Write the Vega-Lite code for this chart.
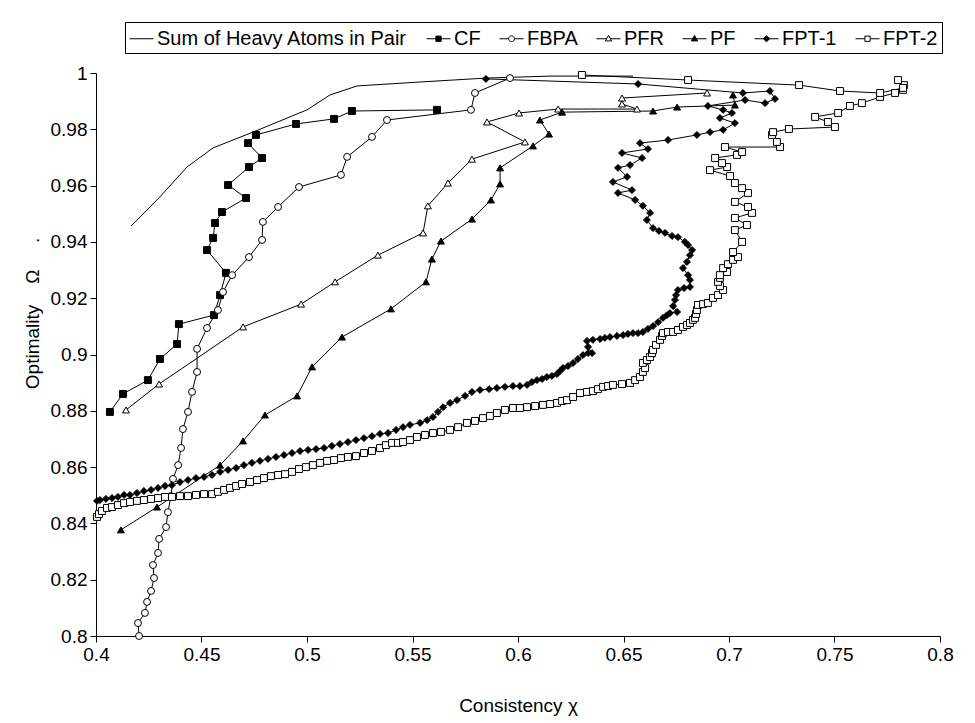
{
  "$schema": "https://vega.github.io/schema/vega-lite/v6.json",
  "width": 844,
  "height": 563,
  "autosize": {"type": "none"},
  "padding": {"left": 96, "top": 73, "right": 35, "bottom": 87},
  "background": "white",
  "config": {
    "view": {"stroke": null},
    "font": "Liberation Sans, Arial, sans-serif",
    "axis": {"grid": false, "domainColor": "black", "tickColor": "black", "labelColor": "black", "titleColor": "black", "labelFontSize": 19, "titleFontSize": 19, "titleFontWeight": "normal", "tickSize": 6, "domainWidth": 1, "tickWidth": 1, "labelFlush": false, "labelOverlap": false, "labelFont": "Liberation Sans, Arial, sans-serif", "titleFont": "Liberation Sans, Arial, sans-serif"},
    "legend": {"labelFont": "Liberation Sans, Arial, sans-serif", "labelFontSize": 20, "labelColor": "black"}
  },
  "data": {"values": [
    {"s":"Sum of Heavy Atoms in Pair","i":1,"x":0.4166,"y":0.9456},
    {"s":"Sum of Heavy Atoms in Pair","i":2,"x":0.4303,"y":0.9560},
    {"s":"Sum of Heavy Atoms in Pair","i":3,"x":0.4431,"y":0.9666},
    {"s":"Sum of Heavy Atoms in Pair","i":4,"x":0.4555,"y":0.9734},
    {"s":"Sum of Heavy Atoms in Pair","i":5,"x":0.4744,"y":0.9790},
    {"s":"Sum of Heavy Atoms in Pair","i":6,"x":0.5000,"y":0.9869},
    {"s":"Sum of Heavy Atoms in Pair","i":7,"x":0.5109,"y":0.9922},
    {"s":"Sum of Heavy Atoms in Pair","i":8,"x":0.5237,"y":0.9954},
    {"s":"Sum of Heavy Atoms in Pair","i":9,"x":0.5536,"y":0.9968},
    {"s":"Sum of Heavy Atoms in Pair","i":10,"x":0.5848,"y":0.9982},
    {"s":"Sum of Heavy Atoms in Pair","i":11,"x":0.6152,"y":0.9989},
    {"s":"Sum of Heavy Atoms in Pair","i":12,"x":0.6545,"y":0.9989},

    {"s":"CF","i":1,"x":0.4066,"y":0.8796},
    {"s":"CF","i":2,"x":0.4128,"y":0.8860},
    {"s":"CF","i":3,"x":0.4246,"y":0.8909},
    {"s":"CF","i":4,"x":0.4303,"y":0.8984},
    {"s":"CF","i":5,"x":0.4384,"y":0.9037},
    {"s":"CF","i":6,"x":0.4393,"y":0.9108},
    {"s":"CF","i":7,"x":0.4559,"y":0.9140},
    {"s":"CF","i":8,"x":0.4588,"y":0.9211},
    {"s":"CF","i":9,"x":0.4616,"y":0.9290},
    {"s":"CF","i":10,"x":0.4526,"y":0.9371},
    {"s":"CF","i":11,"x":0.4555,"y":0.9414},
    {"s":"CF","i":12,"x":0.4564,"y":0.9467},
    {"s":"CF","i":13,"x":0.4597,"y":0.9506},
    {"s":"CF","i":14,"x":0.4711,"y":0.9556},
    {"s":"CF","i":15,"x":0.4626,"y":0.9602},
    {"s":"CF","i":16,"x":0.4725,"y":0.9666},
    {"s":"CF","i":17,"x":0.4787,"y":0.9698},
    {"s":"CF","i":18,"x":0.4720,"y":0.9751},
    {"s":"CF","i":19,"x":0.4758,"y":0.9780},
    {"s":"CF","i":20,"x":0.4948,"y":0.9819},
    {"s":"CF","i":21,"x":0.5128,"y":0.9837},
    {"s":"CF","i":22,"x":0.5213,"y":0.9865},
    {"s":"CF","i":23,"x":0.5616,"y":0.9869},

    {"s":"FBPA","i":1,"x":0.4204,"y":0.8000},
    {"s":"FBPA","i":2,"x":0.4199,"y":0.8046},
    {"s":"FBPA","i":3,"x":0.4232,"y":0.8082},
    {"s":"FBPA","i":4,"x":0.4242,"y":0.8121},
    {"s":"FBPA","i":5,"x":0.4261,"y":0.8160},
    {"s":"FBPA","i":6,"x":0.4275,"y":0.8206},
    {"s":"FBPA","i":7,"x":0.4270,"y":0.8252},
    {"s":"FBPA","i":8,"x":0.4294,"y":0.8295},
    {"s":"FBPA","i":9,"x":0.4299,"y":0.8345},
    {"s":"FBPA","i":10,"x":0.4332,"y":0.8387},
    {"s":"FBPA","i":11,"x":0.4341,"y":0.8440},
    {"s":"FBPA","i":12,"x":0.4355,"y":0.8497},
    {"s":"FBPA","i":13,"x":0.4365,"y":0.8558},
    {"s":"FBPA","i":14,"x":0.4389,"y":0.8607},
    {"s":"FBPA","i":15,"x":0.4403,"y":0.8668},
    {"s":"FBPA","i":16,"x":0.4412,"y":0.8735},
    {"s":"FBPA","i":17,"x":0.4436,"y":0.8796},
    {"s":"FBPA","i":18,"x":0.4455,"y":0.8867},
    {"s":"FBPA","i":19,"x":0.4479,"y":0.8938},
    {"s":"FBPA","i":20,"x":0.4479,"y":0.9020},
    {"s":"FBPA","i":21,"x":0.4526,"y":0.9094},
    {"s":"FBPA","i":22,"x":0.4578,"y":0.9158},
    {"s":"FBPA","i":23,"x":0.4602,"y":0.9222},
    {"s":"FBPA","i":24,"x":0.4645,"y":0.9282},
    {"s":"FBPA","i":25,"x":0.4725,"y":0.9346},
    {"s":"FBPA","i":26,"x":0.4787,"y":0.9407},
    {"s":"FBPA","i":27,"x":0.4791,"y":0.9471},
    {"s":"FBPA","i":28,"x":0.4863,"y":0.9524},
    {"s":"FBPA","i":29,"x":0.4962,"y":0.9595},
    {"s":"FBPA","i":30,"x":0.5161,"y":0.9638},
    {"s":"FBPA","i":31,"x":0.5190,"y":0.9702},
    {"s":"FBPA","i":32,"x":0.5308,"y":0.9773},
    {"s":"FBPA","i":33,"x":0.5379,"y":0.9833},
    {"s":"FBPA","i":34,"x":0.5777,"y":0.9869},
    {"s":"FBPA","i":35,"x":0.5796,"y":0.9929},
    {"s":"FBPA","i":36,"x":0.5962,"y":0.9982},

    {"s":"PFR","i":1,"x":0.4142,"y":0.8803},
    {"s":"PFR","i":2,"x":0.4299,"y":0.8895},
    {"s":"PFR","i":3,"x":0.4697,"y":0.9098},
    {"s":"PFR","i":4,"x":0.4972,"y":0.9179},
    {"s":"PFR","i":5,"x":0.5133,"y":0.9258},
    {"s":"PFR","i":6,"x":0.5336,"y":0.9353},
    {"s":"PFR","i":7,"x":0.5550,"y":0.9432},
    {"s":"PFR","i":8,"x":0.5573,"y":0.9528},
    {"s":"PFR","i":9,"x":0.5668,"y":0.9609},
    {"s":"PFR","i":10,"x":0.5782,"y":0.9694},
    {"s":"PFR","i":11,"x":0.6033,"y":0.9755},
    {"s":"PFR","i":12,"x":0.5853,"y":0.9826},
    {"s":"PFR","i":13,"x":0.6005,"y":0.9858},
    {"s":"PFR","i":14,"x":0.6190,"y":0.9872},
    {"s":"PFR","i":15,"x":0.6564,"y":0.9872},
    {"s":"PFR","i":16,"x":0.6493,"y":0.9890},
    {"s":"PFR","i":17,"x":0.6493,"y":0.9911},
    {"s":"PFR","i":18,"x":0.6896,"y":0.9929},

    {"s":"PF","i":1,"x":0.4118,"y":0.8377},
    {"s":"PF","i":2,"x":0.4289,"y":0.8458},
    {"s":"PF","i":3,"x":0.4588,"y":0.8607},
    {"s":"PF","i":4,"x":0.4697,"y":0.8693},
    {"s":"PF","i":5,"x":0.4801,"y":0.8785},
    {"s":"PF","i":6,"x":0.4953,"y":0.8853},
    {"s":"PF","i":7,"x":0.5024,"y":0.8956},
    {"s":"PF","i":8,"x":0.5166,"y":0.9062},
    {"s":"PF","i":9,"x":0.5398,"y":0.9162},
    {"s":"PF","i":10,"x":0.5564,"y":0.9258},
    {"s":"PF","i":11,"x":0.5592,"y":0.9339},
    {"s":"PF","i":12,"x":0.5635,"y":0.9403},
    {"s":"PF","i":13,"x":0.5782,"y":0.9481},
    {"s":"PF","i":14,"x":0.5872,"y":0.9549},
    {"s":"PF","i":15,"x":0.5915,"y":0.9606},
    {"s":"PF","i":16,"x":0.5915,"y":0.9663},
    {"s":"PF","i":17,"x":0.6071,"y":0.9741},
    {"s":"PF","i":18,"x":0.6147,"y":0.9783},
    {"s":"PF","i":19,"x":0.6104,"y":0.9833},
    {"s":"PF","i":20,"x":0.6209,"y":0.9861},
    {"s":"PF","i":21,"x":0.6640,"y":0.9865},
    {"s":"PF","i":22,"x":0.6754,"y":0.9879},
    {"s":"PF","i":23,"x":0.7028,"y":0.9886},
    {"s":"PF","i":24,"x":0.7019,"y":0.9922},

    {"s":"FPT-1","i":1,"x":0.4005,"y":0.8480},
    {"s":"FPT-1","i":2,"x":0.4019,"y":0.8483},
    {"s":"FPT-1","i":3,"x":0.4047,"y":0.8487},
    {"s":"FPT-1","i":4,"x":0.4076,"y":0.8490},
    {"s":"FPT-1","i":5,"x":0.4104,"y":0.8494},
    {"s":"FPT-1","i":6,"x":0.4133,"y":0.8501},
    {"s":"FPT-1","i":7,"x":0.4161,"y":0.8501},
    {"s":"FPT-1","i":8,"x":0.4194,"y":0.8508},
    {"s":"FPT-1","i":9,"x":0.4227,"y":0.8515},
    {"s":"FPT-1","i":10,"x":0.4261,"y":0.8519},
    {"s":"FPT-1","i":11,"x":0.4294,"y":0.8526},
    {"s":"FPT-1","i":12,"x":0.4327,"y":0.8533},
    {"s":"FPT-1","i":13,"x":0.4360,"y":0.8536},
    {"s":"FPT-1","i":14,"x":0.4398,"y":0.8547},
    {"s":"FPT-1","i":15,"x":0.4436,"y":0.8554},
    {"s":"FPT-1","i":16,"x":0.4474,"y":0.8561},
    {"s":"FPT-1","i":17,"x":0.4512,"y":0.8565},
    {"s":"FPT-1","i":18,"x":0.4550,"y":0.8572},
    {"s":"FPT-1","i":19,"x":0.4588,"y":0.8583},
    {"s":"FPT-1","i":20,"x":0.4626,"y":0.8590},
    {"s":"FPT-1","i":21,"x":0.4664,"y":0.8597},
    {"s":"FPT-1","i":22,"x":0.4701,"y":0.8607},
    {"s":"FPT-1","i":23,"x":0.4739,"y":0.8615},
    {"s":"FPT-1","i":24,"x":0.4777,"y":0.8622},
    {"s":"FPT-1","i":25,"x":0.4815,"y":0.8629},
    {"s":"FPT-1","i":26,"x":0.4853,"y":0.8636},
    {"s":"FPT-1","i":27,"x":0.4891,"y":0.8643},
    {"s":"FPT-1","i":28,"x":0.4929,"y":0.8650},
    {"s":"FPT-1","i":29,"x":0.4967,"y":0.8657},
    {"s":"FPT-1","i":30,"x":0.5005,"y":0.8661},
    {"s":"FPT-1","i":31,"x":0.5043,"y":0.8664},
    {"s":"FPT-1","i":32,"x":0.5081,"y":0.8668},
    {"s":"FPT-1","i":33,"x":0.5118,"y":0.8675},
    {"s":"FPT-1","i":34,"x":0.5156,"y":0.8682},
    {"s":"FPT-1","i":35,"x":0.5194,"y":0.8689},
    {"s":"FPT-1","i":36,"x":0.5232,"y":0.8696},
    {"s":"FPT-1","i":37,"x":0.5270,"y":0.8703},
    {"s":"FPT-1","i":38,"x":0.5308,"y":0.8710},
    {"s":"FPT-1","i":39,"x":0.5346,"y":0.8718},
    {"s":"FPT-1","i":40,"x":0.5384,"y":0.8721},
    {"s":"FPT-1","i":41,"x":0.5422,"y":0.8732},
    {"s":"FPT-1","i":42,"x":0.5455,"y":0.8742},
    {"s":"FPT-1","i":43,"x":0.5488,"y":0.8750},
    {"s":"FPT-1","i":44,"x":0.5536,"y":0.8757},
    {"s":"FPT-1","i":45,"x":0.5569,"y":0.8767},
    {"s":"FPT-1","i":46,"x":0.5597,"y":0.8778},
    {"s":"FPT-1","i":47,"x":0.5621,"y":0.8796},
    {"s":"FPT-1","i":48,"x":0.5645,"y":0.8813},
    {"s":"FPT-1","i":49,"x":0.5678,"y":0.8828},
    {"s":"FPT-1","i":50,"x":0.5711,"y":0.8838},
    {"s":"FPT-1","i":51,"x":0.5749,"y":0.8853},
    {"s":"FPT-1","i":52,"x":0.5782,"y":0.8867},
    {"s":"FPT-1","i":53,"x":0.5820,"y":0.8874},
    {"s":"FPT-1","i":54,"x":0.5863,"y":0.8877},
    {"s":"FPT-1","i":55,"x":0.5900,"y":0.8881},
    {"s":"FPT-1","i":56,"x":0.5938,"y":0.8885},
    {"s":"FPT-1","i":57,"x":0.5976,"y":0.8888},
    {"s":"FPT-1","i":58,"x":0.6009,"y":0.8888},
    {"s":"FPT-1","i":59,"x":0.6043,"y":0.8892},
    {"s":"FPT-1","i":60,"x":0.6066,"y":0.8902},
    {"s":"FPT-1","i":61,"x":0.6090,"y":0.8909},
    {"s":"FPT-1","i":62,"x":0.6114,"y":0.8913},
    {"s":"FPT-1","i":63,"x":0.6137,"y":0.8920},
    {"s":"FPT-1","i":64,"x":0.6161,"y":0.8924},
    {"s":"FPT-1","i":65,"x":0.6185,"y":0.8931},
    {"s":"FPT-1","i":66,"x":0.6199,"y":0.8941},
    {"s":"FPT-1","i":67,"x":0.6213,"y":0.8952},
    {"s":"FPT-1","i":68,"x":0.6237,"y":0.8959},
    {"s":"FPT-1","i":69,"x":0.6261,"y":0.8970},
    {"s":"FPT-1","i":70,"x":0.6284,"y":0.8984},
    {"s":"FPT-1","i":71,"x":0.6308,"y":0.8998},
    {"s":"FPT-1","i":72,"x":0.6332,"y":0.9005},
    {"s":"FPT-1","i":73,"x":0.6351,"y":0.9005},
    {"s":"FPT-1","i":74,"x":0.6332,"y":0.9027},
    {"s":"FPT-1","i":75,"x":0.6327,"y":0.9048},
    {"s":"FPT-1","i":76,"x":0.6355,"y":0.9052},
    {"s":"FPT-1","i":77,"x":0.6389,"y":0.9055},
    {"s":"FPT-1","i":78,"x":0.6412,"y":0.9059},
    {"s":"FPT-1","i":79,"x":0.6436,"y":0.9062},
    {"s":"FPT-1","i":80,"x":0.6469,"y":0.9066},
    {"s":"FPT-1","i":81,"x":0.6498,"y":0.9069},
    {"s":"FPT-1","i":82,"x":0.6521,"y":0.9073},
    {"s":"FPT-1","i":83,"x":0.6545,"y":0.9076},
    {"s":"FPT-1","i":84,"x":0.6569,"y":0.9076},
    {"s":"FPT-1","i":85,"x":0.6592,"y":0.9080},
    {"s":"FPT-1","i":86,"x":0.6616,"y":0.9091},
    {"s":"FPT-1","i":87,"x":0.6640,"y":0.9101},
    {"s":"FPT-1","i":88,"x":0.6664,"y":0.9115},
    {"s":"FPT-1","i":89,"x":0.6687,"y":0.9130},
    {"s":"FPT-1","i":90,"x":0.6706,"y":0.9140},
    {"s":"FPT-1","i":91,"x":0.6720,"y":0.9147},
    {"s":"FPT-1","i":92,"x":0.6754,"y":0.9151},
    {"s":"FPT-1","i":93,"x":0.6735,"y":0.9172},
    {"s":"FPT-1","i":94,"x":0.6744,"y":0.9194},
    {"s":"FPT-1","i":95,"x":0.6749,"y":0.9211},
    {"s":"FPT-1","i":96,"x":0.6758,"y":0.9229},
    {"s":"FPT-1","i":97,"x":0.6787,"y":0.9236},
    {"s":"FPT-1","i":98,"x":0.6815,"y":0.9240},
    {"s":"FPT-1","i":99,"x":0.6815,"y":0.9265},
    {"s":"FPT-1","i":100,"x":0.6806,"y":0.9282},
    {"s":"FPT-1","i":101,"x":0.6782,"y":0.9307},
    {"s":"FPT-1","i":102,"x":0.6801,"y":0.9329},
    {"s":"FPT-1","i":103,"x":0.6815,"y":0.9353},
    {"s":"FPT-1","i":104,"x":0.6825,"y":0.9371},
    {"s":"FPT-1","i":105,"x":0.6806,"y":0.9389},
    {"s":"FPT-1","i":106,"x":0.6791,"y":0.9400},
    {"s":"FPT-1","i":107,"x":0.6758,"y":0.9417},
    {"s":"FPT-1","i":108,"x":0.6730,"y":0.9421},
    {"s":"FPT-1","i":109,"x":0.6697,"y":0.9432},
    {"s":"FPT-1","i":110,"x":0.6668,"y":0.9439},
    {"s":"FPT-1","i":111,"x":0.6640,"y":0.9449},
    {"s":"FPT-1","i":112,"x":0.6611,"y":0.9478},
    {"s":"FPT-1","i":113,"x":0.6626,"y":0.9503},
    {"s":"FPT-1","i":114,"x":0.6592,"y":0.9528},
    {"s":"FPT-1","i":115,"x":0.6555,"y":0.9549},
    {"s":"FPT-1","i":116,"x":0.6474,"y":0.9574},
    {"s":"FPT-1","i":117,"x":0.6540,"y":0.9584},
    {"s":"FPT-1","i":118,"x":0.6450,"y":0.9613},
    {"s":"FPT-1","i":119,"x":0.6517,"y":0.9631},
    {"s":"FPT-1","i":120,"x":0.6474,"y":0.9663},
    {"s":"FPT-1","i":121,"x":0.6531,"y":0.9673},
    {"s":"FPT-1","i":122,"x":0.6588,"y":0.9698},
    {"s":"FPT-1","i":123,"x":0.6493,"y":0.9716},
    {"s":"FPT-1","i":124,"x":0.6616,"y":0.9730},
    {"s":"FPT-1","i":125,"x":0.6578,"y":0.9751},
    {"s":"FPT-1","i":126,"x":0.6711,"y":0.9762},
    {"s":"FPT-1","i":127,"x":0.6848,"y":0.9780},
    {"s":"FPT-1","i":128,"x":0.6910,"y":0.9790},
    {"s":"FPT-1","i":129,"x":0.6972,"y":0.9798},
    {"s":"FPT-1","i":130,"x":0.7028,"y":0.9822},
    {"s":"FPT-1","i":131,"x":0.6957,"y":0.9840},
    {"s":"FPT-1","i":132,"x":0.7014,"y":0.9858},
    {"s":"FPT-1","i":133,"x":0.6972,"y":0.9869},
    {"s":"FPT-1","i":134,"x":0.6900,"y":0.9883},
    {"s":"FPT-1","i":135,"x":0.7076,"y":0.9904},
    {"s":"FPT-1","i":136,"x":0.7171,"y":0.9893},
    {"s":"FPT-1","i":137,"x":0.7218,"y":0.9908},
    {"s":"FPT-1","i":138,"x":0.7194,"y":0.9936},
    {"s":"FPT-1","i":139,"x":0.7066,"y":0.9929},
    {"s":"FPT-1","i":140,"x":0.6569,"y":0.9961},
    {"s":"FPT-1","i":141,"x":0.5848,"y":0.9979},

    {"s":"FPT-2","i":1,"x":0.4005,"y":0.8423},
    {"s":"FPT-2","i":2,"x":0.4014,"y":0.8433},
    {"s":"FPT-2","i":3,"x":0.4028,"y":0.8444},
    {"s":"FPT-2","i":4,"x":0.4052,"y":0.8455},
    {"s":"FPT-2","i":5,"x":0.4076,"y":0.8458},
    {"s":"FPT-2","i":6,"x":0.4104,"y":0.8465},
    {"s":"FPT-2","i":7,"x":0.4133,"y":0.8472},
    {"s":"FPT-2","i":8,"x":0.4161,"y":0.8476},
    {"s":"FPT-2","i":9,"x":0.4194,"y":0.8480},
    {"s":"FPT-2","i":10,"x":0.4227,"y":0.8483},
    {"s":"FPT-2","i":11,"x":0.4261,"y":0.8487},
    {"s":"FPT-2","i":12,"x":0.4294,"y":0.8490},
    {"s":"FPT-2","i":13,"x":0.4327,"y":0.8494},
    {"s":"FPT-2","i":14,"x":0.4360,"y":0.8494},
    {"s":"FPT-2","i":15,"x":0.4398,"y":0.8497},
    {"s":"FPT-2","i":16,"x":0.4436,"y":0.8497},
    {"s":"FPT-2","i":17,"x":0.4474,"y":0.8501},
    {"s":"FPT-2","i":18,"x":0.4512,"y":0.8504},
    {"s":"FPT-2","i":19,"x":0.4550,"y":0.8504},
    {"s":"FPT-2","i":20,"x":0.4578,"y":0.8512},
    {"s":"FPT-2","i":21,"x":0.4607,"y":0.8519},
    {"s":"FPT-2","i":22,"x":0.4635,"y":0.8526},
    {"s":"FPT-2","i":23,"x":0.4664,"y":0.8533},
    {"s":"FPT-2","i":24,"x":0.4692,"y":0.8540},
    {"s":"FPT-2","i":25,"x":0.4730,"y":0.8547},
    {"s":"FPT-2","i":26,"x":0.4763,"y":0.8554},
    {"s":"FPT-2","i":27,"x":0.4796,"y":0.8561},
    {"s":"FPT-2","i":28,"x":0.4829,"y":0.8568},
    {"s":"FPT-2","i":29,"x":0.4863,"y":0.8572},
    {"s":"FPT-2","i":30,"x":0.4896,"y":0.8575},
    {"s":"FPT-2","i":31,"x":0.4929,"y":0.8583},
    {"s":"FPT-2","i":32,"x":0.4962,"y":0.8593},
    {"s":"FPT-2","i":33,"x":0.4995,"y":0.8600},
    {"s":"FPT-2","i":34,"x":0.5028,"y":0.8607},
    {"s":"FPT-2","i":35,"x":0.5062,"y":0.8615},
    {"s":"FPT-2","i":36,"x":0.5095,"y":0.8622},
    {"s":"FPT-2","i":37,"x":0.5128,"y":0.8625},
    {"s":"FPT-2","i":38,"x":0.5161,"y":0.8632},
    {"s":"FPT-2","i":39,"x":0.5194,"y":0.8636},
    {"s":"FPT-2","i":40,"x":0.5232,"y":0.8639},
    {"s":"FPT-2","i":41,"x":0.5270,"y":0.8650},
    {"s":"FPT-2","i":42,"x":0.5308,"y":0.8657},
    {"s":"FPT-2","i":43,"x":0.5346,"y":0.8668},
    {"s":"FPT-2","i":44,"x":0.5374,"y":0.8678},
    {"s":"FPT-2","i":45,"x":0.5403,"y":0.8686},
    {"s":"FPT-2","i":46,"x":0.5431,"y":0.8686},
    {"s":"FPT-2","i":47,"x":0.5455,"y":0.8689},
    {"s":"FPT-2","i":48,"x":0.5488,"y":0.8696},
    {"s":"FPT-2","i":49,"x":0.5521,"y":0.8707},
    {"s":"FPT-2","i":50,"x":0.5559,"y":0.8714},
    {"s":"FPT-2","i":51,"x":0.5597,"y":0.8721},
    {"s":"FPT-2","i":52,"x":0.5635,"y":0.8725},
    {"s":"FPT-2","i":53,"x":0.5678,"y":0.8732},
    {"s":"FPT-2","i":54,"x":0.5716,"y":0.8742},
    {"s":"FPT-2","i":55,"x":0.5758,"y":0.8757},
    {"s":"FPT-2","i":56,"x":0.5796,"y":0.8764},
    {"s":"FPT-2","i":57,"x":0.5834,"y":0.8774},
    {"s":"FPT-2","i":58,"x":0.5867,"y":0.8782},
    {"s":"FPT-2","i":59,"x":0.5900,"y":0.8792},
    {"s":"FPT-2","i":60,"x":0.5938,"y":0.8803},
    {"s":"FPT-2","i":61,"x":0.5976,"y":0.8810},
    {"s":"FPT-2","i":62,"x":0.6009,"y":0.8810},
    {"s":"FPT-2","i":63,"x":0.6043,"y":0.8813},
    {"s":"FPT-2","i":64,"x":0.6081,"y":0.8817},
    {"s":"FPT-2","i":65,"x":0.6118,"y":0.8821},
    {"s":"FPT-2","i":66,"x":0.6152,"y":0.8824},
    {"s":"FPT-2","i":67,"x":0.6185,"y":0.8828},
    {"s":"FPT-2","i":68,"x":0.6209,"y":0.8835},
    {"s":"FPT-2","i":69,"x":0.6232,"y":0.8838},
    {"s":"FPT-2","i":70,"x":0.6261,"y":0.8849},
    {"s":"FPT-2","i":71,"x":0.6294,"y":0.8863},
    {"s":"FPT-2","i":72,"x":0.6327,"y":0.8867},
    {"s":"FPT-2","i":73,"x":0.6355,"y":0.8870},
    {"s":"FPT-2","i":74,"x":0.6379,"y":0.8877},
    {"s":"FPT-2","i":75,"x":0.6403,"y":0.8885},
    {"s":"FPT-2","i":76,"x":0.6427,"y":0.8888},
    {"s":"FPT-2","i":77,"x":0.6450,"y":0.8892},
    {"s":"FPT-2","i":78,"x":0.6493,"y":0.8895},
    {"s":"FPT-2","i":79,"x":0.6531,"y":0.8899},
    {"s":"FPT-2","i":80,"x":0.6555,"y":0.8909},
    {"s":"FPT-2","i":81,"x":0.6578,"y":0.8920},
    {"s":"FPT-2","i":82,"x":0.6592,"y":0.8938},
    {"s":"FPT-2","i":83,"x":0.6602,"y":0.8952},
    {"s":"FPT-2","i":84,"x":0.6592,"y":0.8970},
    {"s":"FPT-2","i":85,"x":0.6611,"y":0.8980},
    {"s":"FPT-2","i":86,"x":0.6626,"y":0.8991},
    {"s":"FPT-2","i":87,"x":0.6635,"y":0.9005},
    {"s":"FPT-2","i":88,"x":0.6640,"y":0.9016},
    {"s":"FPT-2","i":89,"x":0.6654,"y":0.9034},
    {"s":"FPT-2","i":90,"x":0.6673,"y":0.9052},
    {"s":"FPT-2","i":91,"x":0.6682,"y":0.9066},
    {"s":"FPT-2","i":92,"x":0.6687,"y":0.9076},
    {"s":"FPT-2","i":93,"x":0.6711,"y":0.9080},
    {"s":"FPT-2","i":94,"x":0.6735,"y":0.9080},
    {"s":"FPT-2","i":95,"x":0.6758,"y":0.9087},
    {"s":"FPT-2","i":96,"x":0.6782,"y":0.9098},
    {"s":"FPT-2","i":97,"x":0.6801,"y":0.9105},
    {"s":"FPT-2","i":98,"x":0.6815,"y":0.9112},
    {"s":"FPT-2","i":99,"x":0.6829,"y":0.9123},
    {"s":"FPT-2","i":100,"x":0.6839,"y":0.9130},
    {"s":"FPT-2","i":101,"x":0.6844,"y":0.9144},
    {"s":"FPT-2","i":102,"x":0.6848,"y":0.9158},
    {"s":"FPT-2","i":103,"x":0.6853,"y":0.9176},
    {"s":"FPT-2","i":104,"x":0.6877,"y":0.9179},
    {"s":"FPT-2","i":105,"x":0.6900,"y":0.9183},
    {"s":"FPT-2","i":106,"x":0.6924,"y":0.9201},
    {"s":"FPT-2","i":107,"x":0.6948,"y":0.9211},
    {"s":"FPT-2","i":108,"x":0.6972,"y":0.9229},
    {"s":"FPT-2","i":109,"x":0.6957,"y":0.9243},
    {"s":"FPT-2","i":110,"x":0.6948,"y":0.9258},
    {"s":"FPT-2","i":111,"x":0.6957,"y":0.9272},
    {"s":"FPT-2","i":112,"x":0.6957,"y":0.9282},
    {"s":"FPT-2","i":113,"x":0.6991,"y":0.9293},
    {"s":"FPT-2","i":114,"x":0.6972,"y":0.9307},
    {"s":"FPT-2","i":115,"x":0.6995,"y":0.9321},
    {"s":"FPT-2","i":116,"x":0.7019,"y":0.9336},
    {"s":"FPT-2","i":117,"x":0.7043,"y":0.9346},
    {"s":"FPT-2","i":118,"x":0.7019,"y":0.9364},
    {"s":"FPT-2","i":119,"x":0.7062,"y":0.9400},
    {"s":"FPT-2","i":120,"x":0.7028,"y":0.9442},
    {"s":"FPT-2","i":121,"x":0.7085,"y":0.9460},
    {"s":"FPT-2","i":122,"x":0.7028,"y":0.9485},
    {"s":"FPT-2","i":123,"x":0.7109,"y":0.9503},
    {"s":"FPT-2","i":124,"x":0.7090,"y":0.9524},
    {"s":"FPT-2","i":125,"x":0.7028,"y":0.9542},
    {"s":"FPT-2","i":126,"x":0.7090,"y":0.9574},
    {"s":"FPT-2","i":127,"x":0.7062,"y":0.9591},
    {"s":"FPT-2","i":128,"x":0.7028,"y":0.9609},
    {"s":"FPT-2","i":129,"x":0.7005,"y":0.9634},
    {"s":"FPT-2","i":130,"x":0.6910,"y":0.9655},
    {"s":"FPT-2","i":131,"x":0.6991,"y":0.9666},
    {"s":"FPT-2","i":132,"x":0.6967,"y":0.9680},
    {"s":"FPT-2","i":133,"x":0.6934,"y":0.9698},
    {"s":"FPT-2","i":134,"x":0.7038,"y":0.9709},
    {"s":"FPT-2","i":135,"x":0.7062,"y":0.9719},
    {"s":"FPT-2","i":136,"x":0.6981,"y":0.9737},
    {"s":"FPT-2","i":137,"x":0.7242,"y":0.9737},
    {"s":"FPT-2","i":138,"x":0.7227,"y":0.9755},
    {"s":"FPT-2","i":139,"x":0.7204,"y":0.9780},
    {"s":"FPT-2","i":140,"x":0.7209,"y":0.9790},
    {"s":"FPT-2","i":141,"x":0.7284,"y":0.9801},
    {"s":"FPT-2","i":142,"x":0.7502,"y":0.9808},
    {"s":"FPT-2","i":143,"x":0.7469,"y":0.9826},
    {"s":"FPT-2","i":144,"x":0.7408,"y":0.9844},
    {"s":"FPT-2","i":145,"x":0.7517,"y":0.9858},
    {"s":"FPT-2","i":146,"x":0.7573,"y":0.9883},
    {"s":"FPT-2","i":147,"x":0.7630,"y":0.9893},
    {"s":"FPT-2","i":148,"x":0.7716,"y":0.9915},
    {"s":"FPT-2","i":149,"x":0.7787,"y":0.9929},
    {"s":"FPT-2","i":150,"x":0.7825,"y":0.9940},
    {"s":"FPT-2","i":151,"x":0.7829,"y":0.9957},
    {"s":"FPT-2","i":152,"x":0.7801,"y":0.9975},
    {"s":"FPT-2","i":153,"x":0.7825,"y":0.9947},
    {"s":"FPT-2","i":154,"x":0.7716,"y":0.9929},
    {"s":"FPT-2","i":155,"x":0.7526,"y":0.9936},
    {"s":"FPT-2","i":156,"x":0.7332,"y":0.9957},
    {"s":"FPT-2","i":157,"x":0.6806,"y":0.9975},
    {"s":"FPT-2","i":158,"x":0.6303,"y":0.9993}
  ]},
  "encoding": {
    "x": {"field": "x", "type": "quantitative", "scale": {"domain": [0.4, 0.8], "nice": false, "zero": false},
      "axis": {"values": [0.4, 0.45, 0.5, 0.55, 0.6, 0.65, 0.7, 0.75, 0.8], "format": ".2~f", "title": "Consistency χ", "titleY": 69, "titleBaseline": "middle", "labelPadding": 3}},
    "y": {"field": "y", "type": "quantitative", "scale": {"domain": [0.8, 1.0], "nice": false, "zero": false},
      "axis": {"values": [0.8, 0.82, 0.84, 0.86, 0.88, 0.9, 0.92, 0.94, 0.96, 0.98, 1.0], "format": ".2~f", "title": "Optimality\u00a0\u00a0\u00a0\u00a0Ω\u00a0\u00a0\u00a0\u00a0\u00a0.", "titleX": -64, "titleY": 240, "titleBaseline": "middle", "titleAlign": "center", "labelPadding": 3}}
  },
  "layer": [
    {
      "mark": {"type": "line", "color": "black", "strokeWidth": 1},
      "encoding": {
        "detail": {"field": "s", "type": "nominal"},
        "order": {"field": "i", "type": "quantitative"}
      }
    },
    {
      "transform": [{"filter": "datum.s !== 'Sum of Heavy Atoms in Pair'"}],
      "mark": {"type": "point", "stroke": "black", "strokeWidth": 1, "size": 48, "opacity": 1, "filled": false},
      "encoding": {
        "shape": {"field": "s", "type": "nominal", "legend": null,
          "scale": {"domain": ["CF", "FBPA", "PFR", "PF", "FPT-1", "FPT-2"], "range": ["square", "circle", "triangle-up", "triangle-up", "diamond", "square"]}},
        "fill": {"field": "s", "type": "nominal", "legend": null,
          "scale": {"domain": ["CF", "FBPA", "PFR", "PF", "FPT-1", "FPT-2"], "range": ["black", "white", "white", "black", "black", "white"]}}
      }
    },
    {
      "mark": {"type": "point", "stroke": "black", "strokeWidth": 1, "opacity": 0, "filled": false},
      "encoding": {
        "shape": {"field": "s", "type": "nominal",
          "scale": {"domain": ["Sum of Heavy Atoms in Pair", "CF", "FBPA", "PFR", "PF", "FPT-1", "FPT-2"],
            "range": [
              "M-1,0H1",
              "M-1,0H1M-0.22,-0.22H0.22V0.22H-0.22Z",
              "M-1,0H-0.24M0.24,0H1M-0.24,0A0.24,0.24 0 1,0 0.24,0A0.24,0.24 0 1,0 -0.24,0Z",
              "M-1,0H-0.15M0.15,0H1M0,-0.28L0.26,0.18H-0.26Z",
              "M-1,0H1M0,-0.28L0.26,0.18H-0.26Z",
              "M-1,0H1M-0.26,0L0,-0.26L0.26,0L0,0.26Z",
              "M-1,0H-0.22M0.22,0H1M-0.22,-0.22H0.22V0.22H-0.22Z"
            ]},
          "legend": {"orient": "none", "legendX": 29, "legendY": -51, "direction": "horizontal", "columns": 7, "title": null,
            "symbolSize": 576, "symbolOpacity": 1, "symbolStrokeColor": "black", "symbolStrokeWidth": 1,
            "strokeColor": "black", "fillColor": "white", "padding": 4, "columnPadding": 16, "labelOffset": 3, "labelLimit": 400,
            "encode": {"symbols": {"update": {"stroke": {"value": "black"}, "strokeWidth": {"value": 1}, "opacity": {"value": 1}}}}}},
        "fill": {"field": "s", "type": "nominal",
          "scale": {"domain": ["Sum of Heavy Atoms in Pair", "CF", "FBPA", "PFR", "PF", "FPT-1", "FPT-2"], "range": ["white", "black", "white", "white", "black", "black", "white"]},
          "legend": {"orient": "none", "legendX": 29, "legendY": -51, "direction": "horizontal", "columns": 7, "title": null,
            "symbolSize": 576, "symbolOpacity": 1, "symbolStrokeColor": "black", "symbolStrokeWidth": 1,
            "strokeColor": "black", "fillColor": "white", "padding": 4, "columnPadding": 16, "labelOffset": 3, "labelLimit": 400,
            "encode": {"symbols": {"update": {"stroke": {"value": "black"}, "strokeWidth": {"value": 1}, "opacity": {"value": 1}}}}}}
      }
    }
  ],
  "resolve": {"scale": {"shape": "independent", "fill": "independent"}, "legend": {"shape": "independent", "fill": "independent"}}
}
